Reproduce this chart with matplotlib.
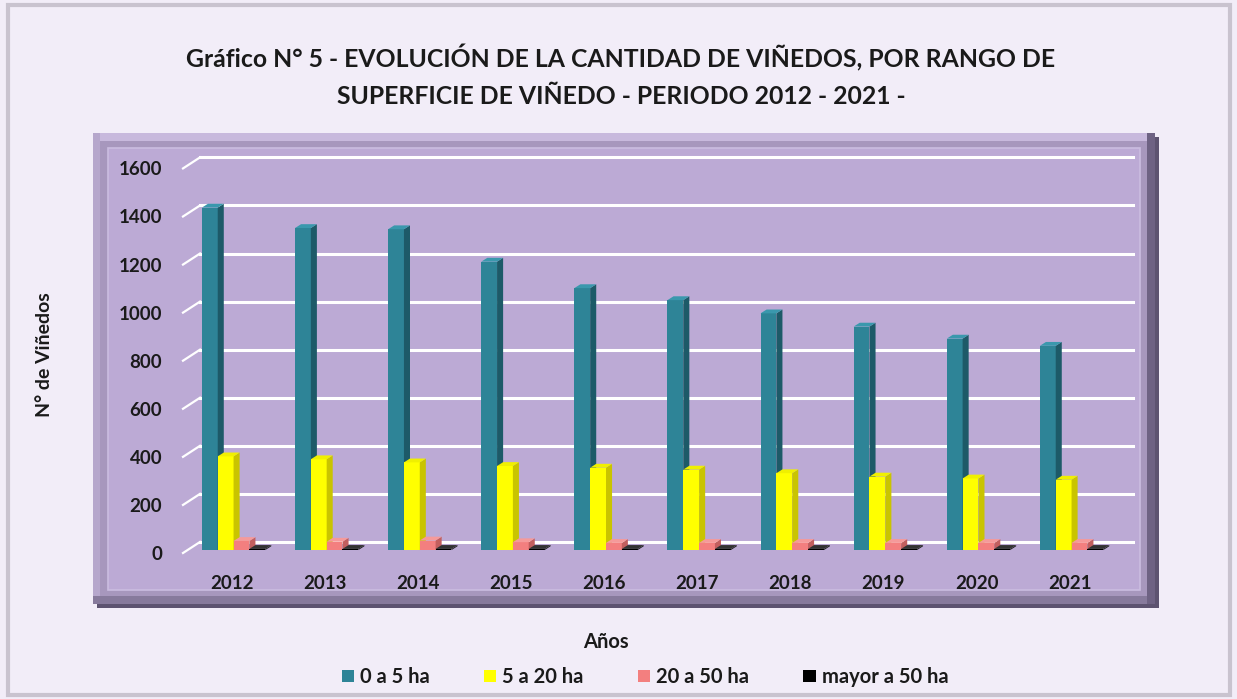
import matplotlib
matplotlib.use('Agg')
from matplotlib import pyplot as plt
from matplotlib.patches import Polygon, Rectangle

plt.rcParams['font.family'] = ['Lato', 'DejaVu Sans']

years = ['2012', '2013', '2014', '2015', '2016', '2017', '2018', '2019', '2020', '2021']
s_0_5 = [1425, 1340, 1335, 1200, 1090, 1040, 985, 930, 880, 850]
s_5_20 = [390, 378, 365, 350, 343, 335, 320, 306, 298, 293]
s_20_50 = [38, 35, 40, 33, 30, 30, 30, 30, 30, 30]
s_50_mas = [5, 5, 5, 5, 5, 5, 5, 5, 5, 5]
series_names = ['0 a 5 ha', '5 a 20 ha', '20 a 50 ha', 'mayor a 50 ha']
yticks = [0, 200, 400, 600, 800, 1000, 1200, 1400, 1600]

front = ['#2e8497', '#ffff00', '#f37f7f', '#000000']
side = ['#1d5a68', '#c9c400', '#c25f5f', '#222222']
topc = ['#3a98ad', '#f0f000', '#f59a9a', '#333333']

W, H = 1237, 699
fig = plt.figure(figsize=(W / 100, H / 100), dpi=100)
fig.patch.set_facecolor('#f2edf8')


def frect(x0, y0, x1, y1, **kw):
    # rectangle in pixel coords of the page, drawn behind the axes
    fig.patches.append(Rectangle((x0 / W, 1 - y1 / H), (x1 - x0) / W, (y1 - y0) / H,
                                 transform=fig.transFigure, zorder=-5, **kw))


# outer page border
frect(8, 5, 1230, 695, fill=False, edgecolor='#c9c3cf', lw=3)

# beveled frame around the plot area
frect(97, 137, 1159, 608, facecolor='#5d5370', edgecolor='none')
frect(93, 133, 1155, 604, facecolor='#a797bd', edgecolor='none')
frect(93, 133, 1155, 141, facecolor='#c8b9dd', edgecolor='none')
frect(93, 133, 100, 604, facecolor='#b6a7cc', edgecolor='none')
frect(93, 596, 1155, 604, facecolor='#877a9c', edgecolor='none')
frect(1147, 133, 1155, 604, facecolor='#6e6283', edgecolor='none')
frect(108, 148, 1140, 590, facecolor='#bcaad5', edgecolor='#cbbde0', lw=1.2)

ax = fig.add_axes([183 / W, 1 - 553 / H, (1133 - 183) / W, (553 - 154) / H])
ax.set_facecolor('none')
for sp in ax.spines.values():
    sp.set_visible(False)

x0lim, x1lim = -0.523, 9.68
ax.set_xlim(x0lim, x1lim)
ax.set_ylim(0, 1660)

# depth of the fake 3D
gdx, gdy = 0.183, 46
ddx, ddy = 0.065, 16
floor = 12

for v in yticks:
    ax.plot([x0lim + gdx, x1lim], [v + gdy, v + gdy], color='white', lw=2.2, zorder=1,
            clip_on=False)
    ax.plot([x0lim, x0lim + gdx], [v, v + gdy], color='white', lw=1.6, zorder=1,
            clip_on=False)

series = [s_0_5, s_5_20, s_20_50, s_50_mas]
bw = 0.17
start = -0.32
for k, vals in enumerate(series):
    xs = [i + start + k * bw for i in range(len(years))]
    ax.bar(xs, vals, width=bw, bottom=floor, align='edge', color=front[k],
           zorder=3 + k * 3, label=series_names[k], linewidth=0)
    for x, v in zip(xs, vals):
        t = v + floor
        ax.add_patch(Polygon([(x + bw, floor), (x + bw + ddx, floor + ddy),
                              (x + bw + ddx, t + ddy), (x + bw, t)], closed=True,
                             facecolor=side[k], edgecolor='none', zorder=4 + k * 3))
        ax.add_patch(Polygon([(x, t), (x + bw, t), (x + bw + ddx, t + ddy), (x + ddx, t + ddy)],
                             closed=True, facecolor=topc[k], edgecolor='none',
                             zorder=5 + k * 3))

ax.set_xticks(range(len(years)))
ax.set_xticklabels(years, fontsize=13.5, fontweight='bold')
ax.set_yticks(yticks)
ax.set_yticklabels([str(t) for t in yticks], fontsize=13.5, fontweight='bold')
ax.tick_params(axis='both', length=0, colors='#1a1a1a')
ax.tick_params(axis='y', pad=15)
ax.tick_params(axis='x', pad=16)

fig.text(621 / W, 1 - 58 / H, 'Gráfico N° 5 - EVOLUCIÓN DE LA CANTIDAD DE VIÑEDOS, POR RANGO DE',
         ha='center', va='center', fontsize=17.8, fontweight='bold', color='#1a1a1a')
fig.text(621 / W, 1 - 96 / H, 'SUPERFICIE DE VIÑEDO - PERIODO 2012 - 2021 -',
         ha='center', va='center', fontsize=17.8, fontweight='bold', color='#1a1a1a')
fig.text(45 / W, 1 - 355 / H, 'N° de Viñedos', rotation=90, ha='center', va='center',
         fontsize=14, fontweight='bold', color='#1a1a1a')
fig.text(606 / W, 1 - 642 / H, 'Años', ha='center', va='center', fontsize=14.5,
         fontweight='bold', color='#1a1a1a')

handles = [Rectangle((0, 0), 1, 1, facecolor=c, edgecolor='none') for c in front]
fig.legend(handles, series_names, loc='center', bbox_to_anchor=(645 / W, 1 - 677 / H),
           ncol=4, frameon=False, prop={'size': 14.5, 'weight': 'bold'},
           handlelength=0.6, handleheight=0.6, handletextpad=0.3, columnspacing=2.7,
           labelcolor='#1a1a1a')

fig.savefig('out.png', dpi=100, facecolor=fig.get_facecolor())
